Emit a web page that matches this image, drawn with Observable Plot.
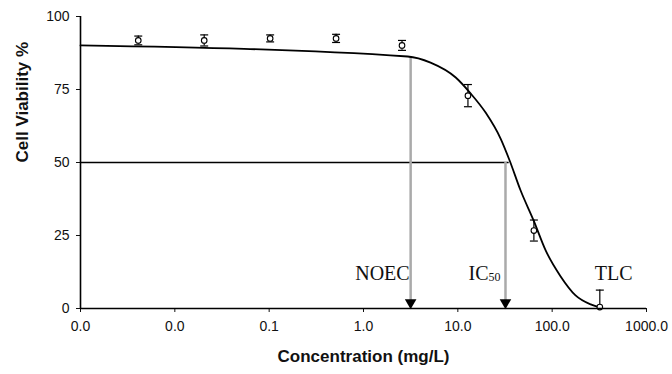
<!DOCTYPE html>
<html>
<head>
<meta charset="utf-8">
<script src="https://cdn.jsdelivr.net/npm/d3@7"></script>
<script src="https://cdn.jsdelivr.net/npm/@observablehq/plot@0.6"></script>
<style>
  html, body { margin: 0; padding: 0; background: #fff; }
  #chart svg { display: block; }
</style>
</head>
<body>
<div id="chart"></div>
<script>
// Measured points (concentration mg/L, viability %, error)
const conc = [0.004096, 0.02048, 0.1024, 0.512, 2.56, 12.8, 64, 320];
const viability = [91.8, 91.8, 92.5, 92.5, 90.1, 72.9, 26.7, 0.5];
const errors = [1.5, 1.9, 1.2, 1.4, 1.7, 3.8, 3.6, 5.8];

// Fitted curve
const curveConc = [0.001, 2.94, 5.14, 9.5, 13.7, 19.7, 28.4, 35.4, 46.3, 63.7, 85.3, 123, 177, 256, 327];
const curveViab = [90.1, 86.3, 84.2, 79.1, 73.6, 67.1, 58.2, 50.7, 40.4, 30.1, 19.9, 11.0, 4.5, 1.4, 0.3];

// Reference values
const noec = 3.16;
const noecViab = 86.3;
const ic50 = 32;
const ic50LineEnd = 35;
const tlc = 320;
const labelViab = 12;

const xTicks = [0.001, 0.01, 0.1, 1, 10, 100, 1000];
const yTicks = [0, 25, 50, 75, 100];
const xTitle = "Concentration (mg/L)";
const yTitle = "Cell Viability %";

const points = conc.map((c, i) => ({c, v: viability[i], lo: Math.max(0, viability[i] - errors[i]), hi: viability[i] + errors[i]}));
const caps = points.flatMap(p => (p.lo > 0 ? [p.lo, p.hi] : [p.hi]).map(v => ({c: p.c, v})));
const curve = curveConc.map((c, i) => ({c, v: curveViab[i]}));

const capSymbol = {draw(ctx, size) { const w = Math.sqrt(size) / 2; ctx.moveTo(-w, 0); ctx.lineTo(w, 0); }};

const sans = "Liberation Sans, Arial, Helvetica, sans-serif";
const serif = "Liberation Serif, Times New Roman, serif";

const chart = Plot.plot({
  width: 672,
  height: 374,
  marginLeft: 80,
  marginRight: 26,
  marginTop: 16,
  marginBottom: 66,
  style: {fontFamily: sans, fontSize: "14px", color: "#111", background: "#fff"},
  x: {type: "log", domain: [0.001, 1000]},
  y: {domain: [0, 100]},
  marks: [
    Plot.axisY({ticks: yTicks, tickSize: 4, tickPadding: 7, fontSize: 14, label: null}),
    Plot.axisX({ticks: xTicks, tickFormat: d => d.toFixed(1), tickSize: 4, tickPadding: 9, fontSize: 14, label: null}),
    Plot.text([yTitle], {frameAnchor: "left", text: d => d, rotate: -90, dx: -58, fontWeight: "bold", fontSize: 17, fill: "#111"}),
    Plot.text([xTitle], {frameAnchor: "bottom", text: d => d, dy: 48, lineAnchor: "middle", fontWeight: "bold", fontSize: 17, fill: "#111"}),
    // 50% horizontal line
    Plot.ruleY([50], {x1: 0.001, x2: ic50LineEnd, stroke: "#000", strokeWidth: 1.3}),
    // gray arrows
    Plot.ruleX([noec], {y1: noecViab, y2: 2, stroke: "#aaa", strokeWidth: 2.5}),
    Plot.ruleX([ic50], {y1: 50, y2: 2, stroke: "#aaa", strokeWidth: 2.5}),
    Plot.dot([noec, ic50], {x: d => d, y: 0, dy: -6, symbol: "triangle", rotate: 180, r: 4.3, fill: "#000", stroke: "none"}),
    // fitted curve
    Plot.line(curve, {x: "c", y: "v", curve: "monotone-x", stroke: "#000", strokeWidth: 1.8}),
    // error bars
    Plot.ruleX(points, {x: "c", y1: "lo", y2: "hi", stroke: "#000", strokeWidth: 1.2}),
    Plot.dot(caps, {x: "c", y: "v", symbol: capSymbol, r: 4.5, stroke: "#000", strokeWidth: 1.2, fill: "none"}),
    Plot.dot(points, {x: "c", y: "v", r: 2.8, fill: "#fff", stroke: "#000", strokeWidth: 1.1}),
    // frame axes
    Plot.ruleY([0], {stroke: "#000", strokeWidth: 1.6}),
    Plot.ruleX([0.001], {stroke: "#000", strokeWidth: 1.6}),
    // labels
    Plot.text(["NOEC"], {x: noec, y: labelViab, text: d => d, textAnchor: "end", dx: -1, fontFamily: serif, fontSize: 20, fill: "#111"}),
    Plot.text(["IC"], {x: ic50, y: labelViab, text: d => d, textAnchor: "end", dx: -17, fontFamily: serif, fontSize: 20, fill: "#111"}),
    Plot.text(["50"], {x: ic50, y: labelViab, text: d => d, textAnchor: "end", dx: -5, dy: 4, fontFamily: serif, fontSize: 12, fill: "#111"}),
    Plot.text(["TLC"], {x: tlc, y: labelViab, text: d => d, textAnchor: "start", dx: -5, fontFamily: serif, fontSize: 20, fill: "#111"})
  ]
});

document.getElementById("chart").append(chart);
</script>
</body>
</html>
